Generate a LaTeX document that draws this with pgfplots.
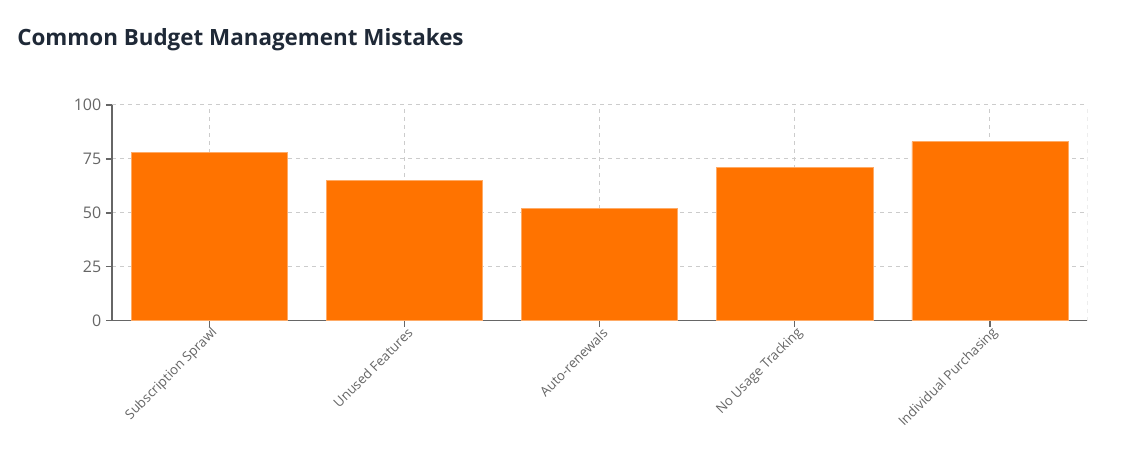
\documentclass[border=0pt]{standalone}
\usepackage{pgfplots}
\pgfplotsset{compat=1.18}
\usepackage{fontspec}
\setmainfont{Open Sans}
\definecolor{barorange}{HTML}{FF7300}
\definecolor{titlecol}{HTML}{1F2937}
\definecolor{axisgray}{HTML}{666666}
\definecolor{gridgray}{HTML}{CCCCCC}

\begin{document}
\begin{tikzpicture}[x=0.75pt,y=0.75pt]
  % page frame: 1125 x 468 px, axis lower left at (112,321) px
  \useasboundingbox (-112,-147.3) rectangle (1013,320.7);
  \node[anchor=base west, text=titlecol, font=\bfseries\fontsize{16.8}{20}\selectfont, inner sep=0pt]
    at (-95,275) {Common Budget Management Mistakes};
  \begin{axis}[
      at={(0pt,0pt)}, anchor=south west,
      scale only axis,
      width=731.6pt, height=161.8pt,
      xmin=-0.5, xmax=4.5,
      ymin=0, ymax=100,
      ytick={0,25,50,75,100},
      xtick={0,1,2,3,4},
      xticklabels={Subscription Sprawl,Unused Features,Auto-renewals,No Usage Tracking,Individual Purchasing},
      axis x line*=bottom, axis y line*=left,
      axis line style={axisgray, line width=1pt, -},
      tick style={axisgray, line width=1pt},
      tick align=outside,
      major tick length=4.5pt,
      xmajorgrids, ymajorgrids,
      grid style={gridgray, dashed, line width=0.75pt},
      yticklabel style={text=axisgray, font=\fontsize{12}{14}\selectfont},
      xticklabel style={text=axisgray, font=\fontsize{10}{12}\selectfont, rotate=45, anchor=east, inner sep=2pt, xshift=3pt, yshift=-5pt},
      /pgf/number format/assume math mode=true,
      bar width=0.8,
    ]
    \draw[gridgray, dashed, line width=0.75pt] (rel axis cs:1,0) -- (rel axis cs:1,1);
    \addplot[ybar, fill=barorange, draw=barorange!60, line width=0.5pt]
      coordinates {(0,78) (1,65) (2,52) (3,71) (4,83)};
  \end{axis}
\end{tikzpicture}
\end{document}
